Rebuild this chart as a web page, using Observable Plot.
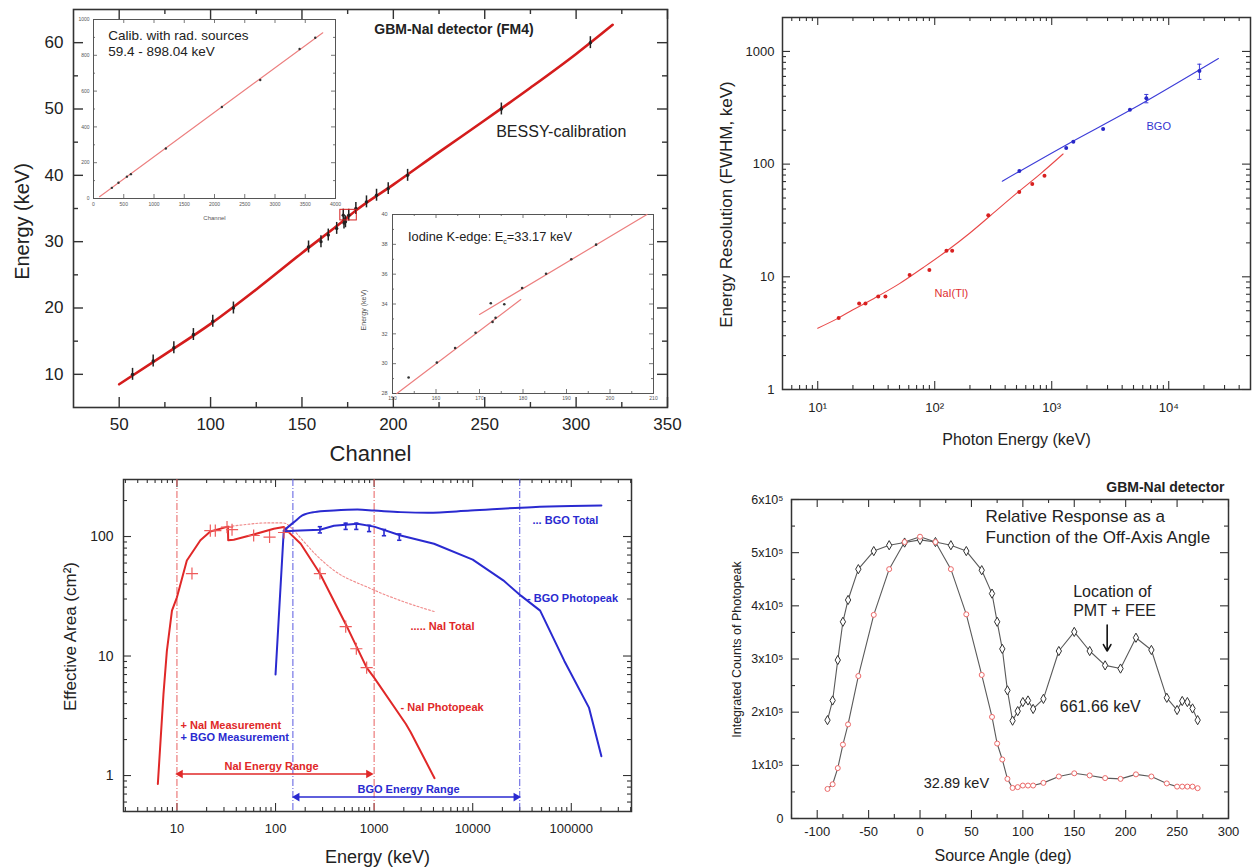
<!DOCTYPE html>
<html><head><meta charset="utf-8">
<script src="https://cdn.jsdelivr.net/npm/d3@7"></script>
<script src="https://cdn.jsdelivr.net/npm/@observablehq/plot@0.6"></script>
<style>
body{margin:0;background:#fff;}
#root{position:relative;width:1253px;height:867px;overflow:hidden;background:#fff;font-family:"Liberation Sans",Arial,Helvetica,sans-serif;}
.pane{position:absolute;}
.html-label{position:absolute;white-space:nowrap;color:#222;}
</style></head><body><div id="root"></div>
<script>
// ================= DATA =================
// --- Panel A: BESSY calibration (Energy vs Channel)
const bessyCurveCh = [50, 75, 100, 125, 150, 172, 180, 200, 225, 250, 275, 300, 320];
const bessyCurveE  = [8.5, 13, 17.6, 22.8, 28.3, 33, 34.8, 38.6, 43.5, 48.3, 53.2, 58.3, 62.7];
const bessyPtsCh = [57.3, 68.6, 79.9, 90.6, 101.2, 112.5, 153.6, 160.4, 164.4, 169, 172.6, 173, 173.8, 175.6, 179.5, 185.3, 190.8, 197.2, 207.8, 259.1, 307.8];
const bessyPtsE  = [10, 12, 14, 16, 18, 20, 29.2, 30, 31, 32, 34, 32.8, 33, 34, 35, 36, 37, 38, 40, 50, 60];
const kEdgeBoxCh = [171, 180];
const kEdgeBoxE  = [33.2, 34.8];
const chTicks = [50, 100, 150, 200, 250, 300, 350];
const chMinor = [75, 125, 175, 225, 275, 325];
const eTicks = [10, 20, 30, 40, 50, 60];
const eMinor = [15, 25, 35, 45, 55];

// --- Inset 1: calibration with radioactive sources
const calibLineCh = [100, 3790];
const calibLineE  = [10, 926];
const calibPtsCh = [304, 413, 552, 618, 1196, 2122, 2756, 3406, 3665];
const calibPtsE  = [59.4, 88, 122, 136, 279, 511, 662, 835, 898];
const calibXTicks = [0, 500, 1000, 1500, 2000, 2500, 3000, 3500, 4000];
const calibYTicks = [0, 200, 400, 600, 800, 1000];

// --- Inset 2: Iodine K-edge
const kLowCh = [151, 179.5];
const kLowE  = [28, 34.3];
const kHighCh = [170, 208.5];
const kHighE  = [33.3, 40];
const kPtsCh = [153.7, 160.2, 164.4, 169.1, 172.6, 173, 173.7, 175.7, 179.8, 185.3, 191.1, 196.8];
const kPtsE  = [29.07, 30.07, 31.05, 32.07, 34.05, 32.8, 33.07, 33.98, 35.07, 36.03, 37, 37.98];
const kXTicks = [150, 160, 170, 180, 190, 200, 210];
const kYTicks = [28, 30, 32, 34, 36, 38, 40];

// --- Panel B: energy resolution
const naiFitE = [10, 15, 20, 30, 50, 80, 130, 200, 300, 500, 800, 1250];
const naiFitR = [3.5, 4.3, 5.1, 6.4, 8.7, 12.1, 17.3, 24.5, 35, 55, 82, 123];
const naiResE = [15.1, 22.6, 25.6, 32.9, 37.9, 61, 90, 126, 141, 287, 528, 682, 867];
const naiResR = [4.3, 5.8, 5.8, 6.7, 6.7, 10.4, 11.5, 17.0, 17.0, 35.2, 56.5, 66.7, 78.7];
const bgoFitE = [378, 1330, 4660, 26600];
const bgoFitR = [70.5, 148, 300, 866];
const bgoResE = [529, 1330, 1530, 2750, 4660, 6440, 18300];
const bgoResR = [87, 139, 158, 205, 303, 385, 671];
const bgoErrE  = [6440, 18300];
const bgoErrLo = [350, 565];
const bgoErrHi = [415, 770];
const resXTicks = [10, 100, 1000, 10000];
const resXLabels = ["10¹", "10²", "10³", "10⁴"];
const resYTicks = [1, 10, 100, 1000];
const resYLabels = ["1", "10", "100", "1000"];

// --- Panel C: effective area
const naiPeakE = [6.4, 7.3, 7.9, 8.9, 10, 12.6, 17.3, 21.8, 32.9, 33.1, 37.7, 60, 96, 121, 131, 180, 282, 536, 840, 1000, 2100, 2350, 4100];
const naiPeakA = [0.85, 4.8, 11, 24, 31, 63, 93, 110, 121, 93, 94, 104, 116, 120, 112, 87, 49, 17.3, 8, 6.6, 2.7, 2.3, 0.95];
const naiTotE = [33, 50, 80, 120, 150, 180, 250, 392, 860, 1870, 4100];
const naiTotA = [121, 126, 130, 130, 115, 97, 72, 52, 37.6, 29, 23.5];
const bgoPeakE = [100, 121, 154, 282, 391, 677, 1000, 1860, 4050, 10000, 20400, 30800, 48300, 85000, 151000, 202000];
const bgoPeakA = [7, 110, 112, 114, 123, 128, 121, 102, 87, 64, 43, 32, 24, 9.1, 3.7, 1.45];
const bgoTotE = [121, 154, 187, 246, 391, 677, 1000, 1860, 3500, 9500, 39800, 100000, 202000];
const bgoTotA = [112, 132, 150, 160, 165, 168, 165, 160, 158, 165, 176, 180, 182];
const naiMeasE = [14.2, 21.8, 24.5, 32.2, 36.2, 60, 87, 122, 282, 515, 660, 840];
const naiMeasA = [49, 112, 112, 120, 114, 102, 99, 108, 49, 17.6, 11.5, 8.0];
const bgoMeasE = [282, 515, 660, 890, 1260, 1800];
const bgoMeasA = [114, 122, 122, 117, 108, 99];
const naiLimits = [10, 1000];
const bgoLimits = [150, 30000];
const rangeFrom  = [10.8, 165];
const rangeTo    = [880, 27500];
const rangeLevel = [1.03, 0.66];
const effXTicks = [10, 100, 1000, 10000, 100000];
const effXLabels = ["10", "100", "1000", "10000", "100000"];
const effYTicks = [1, 10, 100];
const effYLabels = ["1", "10", "100"];

// --- Panel D: off-axis response
const angles = [-90, -85, -80, -75, -70, -60, -45, -30, -15, 0, 15, 30, 45, 60, 70, 75, 80, 85, 90, 95, 100, 105, 110, 120, 135, 150, 165, 180, 195, 210, 225, 240, 250, 255, 260, 265, 270];
const counts662 = [1.85, 2.22, 2.98, 3.70, 4.11, 4.69, 5.03, 5.14, 5.19, 5.24, 5.2, 5.14, 5.03, 4.67, 4.23, 3.70, 3.19, 2.41, 1.84, 2.02, 2.19, 2.22, 2.06, 2.25, 3.15, 3.51, 3.15, 2.88, 2.82, 3.40, 3.17, 2.27, 2.04, 2.21, 2.19, 2.07, 1.85].map(v => v * 1e5);
const counts33 = [0.556, 0.644, 0.948, 1.39, 1.77, 2.68, 3.83, 4.69, 5.2, 5.3, 5.2, 4.69, 3.84, 2.70, 1.91, 1.41, 1.11, 0.745, 0.575, 0.59, 0.62, 0.62, 0.62, 0.67, 0.79, 0.85, 0.81, 0.76, 0.745, 0.83, 0.79, 0.66, 0.6, 0.6, 0.6, 0.6, 0.57].map(v => v * 1e5);
const pmtArrowAngle = 182;
const pmtArrowFrom = 3.64e5;
const pmtArrowTo = 3.15e5;
const angXTicks = [-100, -50, 0, 50, 100, 150, 200, 250, 300];
const angXMinor = [-125, -75, -25, 25, 75, 125, 175, 225, 275];
const angYTicks = [0, 1e5, 2e5, 3e5, 4e5, 5e5, 6e5];
const angYLabels = ["0", "1x10⁵", "2x10⁵", "3x10⁵", "4x10⁵", "5x10⁵", "6x10⁵"];
const angYMinor = [0.5e5, 1.5e5, 2.5e5, 3.5e5, 4.5e5, 5.5e5];

// ================= HELPERS =================
const FONT = '"Liberation Sans", Arial, Helvetica, sans-serif';
const root = document.getElementById("root");
const zip = (xs, ys, kx = "x", ky = "y") => xs.map((v, i) => ({[kx]: v, [ky]: ys[i]}));
const lookup = (ticks, labels) => d => labels[ticks.indexOf(d)] ?? "";
const plain = d => String(d);
function logMinor(lo, hi) {
  const out = [];
  for (let k = Math.floor(Math.log10(lo)) - 1; k <= Math.ceil(Math.log10(hi)); k++)
    for (let m = 2; m <= 9; m++) { const v = m * Math.pow(10, k); if (v > lo * 1.001 && v < hi * 0.999) out.push(v); }
  return out;
}
function place(svg, left, top) {
  const d = document.createElement("div");
  d.className = "pane";
  d.style.left = left + "px"; d.style.top = top + "px";
  d.appendChild(svg); root.appendChild(d);
}
function htmlLabel(html, left, top, css) {
  const d = document.createElement("div");
  d.className = "html-label";
  d.style.left = left + "px"; d.style.top = top + "px";
  d.style.cssText += css;
  d.innerHTML = html; root.appendChild(d);
}
// inward ticks on all four sides
function boxTicks(xMaj, xMin, yMaj, yMin, fw, fh, big, small, stroke, sw = 1.2) {
  const tx = (v, len) => [Plot.ruleX(v, {insetTop: fh - len, stroke, strokeWidth: sw}), Plot.ruleX(v, {insetBottom: fh - len, stroke, strokeWidth: sw})];
  const ty = (v, len) => [Plot.ruleY(v, {insetRight: fw - len, stroke, strokeWidth: sw}), Plot.ruleY(v, {insetLeft: fw - len, stroke, strokeWidth: sw})];
  return [...tx(xMaj, big), ...tx(xMin, small), ...ty(yMaj, big), ...ty(yMin, small)];
}
function makePlot(o) {
  return Plot.plot({
    width: o.w, height: o.h,
    marginLeft: o.ml, marginTop: o.mt, marginRight: o.mr, marginBottom: o.mb,
    x: o.x, y: o.y,
    style: {background: "transparent", overflow: "visible", fontFamily: FONT, color: "#222", maxWidth: "none"},
    marks: o.marks
  });
}
// text placed at pixel offset from the frame's top-left corner, centred on (dx, dy)
const TL = (dx, dy, extra = {}) => ({frameAnchor: "top-left", dx, dy, textAnchor: "middle", lineAnchor: "middle", ...extra});
// rotated y-axis title
const YT = (dx, dy, fontSize, extra = {}) => ({frameAnchor: "left", dx, dy, rotate: -90, textAnchor: "middle", lineAnchor: "middle", fontSize, ...extra});
// x-axis title
const XT = (dx, dy, fontSize, extra = {}) => ({frameAnchor: "bottom", dx, dy, textAnchor: "middle", lineAnchor: "middle", fontSize, ...extra});

// ================= PANEL A =================
{
  const fw = 594, fh = 398;
  const curve = zip(bessyCurveCh, bessyCurveE);
  const pts = zip(bessyPtsCh, bessyPtsE);
  const svg = makePlot({
    w: 680, h: 470, ml: 73, mt: 9, mr: 13, mb: 63,
    x: {domain: [25, 350]}, y: {domain: [5, 65]},
    marks: [
      Plot.frame({stroke: "#333", strokeWidth: 1.6}),
      ...boxTicks(chTicks, chMinor, eTicks, eMinor, fw, fh, 10, 5, "#333", 1.4),
      Plot.axisX(chTicks, {anchor: "bottom", tickSize: 0, tickPadding: 10, fontSize: 17, label: null}),
      Plot.axisY(eTicks, {anchor: "left", tickSize: 0, tickPadding: 10, fontSize: 17, label: null}),
      Plot.line(curve, {x: "x", y: "y", stroke: "#d41c1c", strokeWidth: 2.6, curve: "monotone-x"}),
      Plot.ruleX(pts, {x: "x", y1: d => d.y - 0.9, y2: d => d.y + 0.9, stroke: "#222", strokeWidth: 1.5}),
      Plot.dot(pts, {x: "x", y: "y", r: 1.7, fill: "#222"}),
      Plot.rect([{x1: kEdgeBoxCh[0], x2: kEdgeBoxCh[1], y1: kEdgeBoxE[0], y2: kEdgeBoxE[1]}], {x1: "x1", x2: "x2", y1: "y1", y2: "y2", fill: "none", stroke: "#d41c1c", strokeWidth: 1}),
      Plot.text(["Energy (keV)"], YT(-51, 13, 20)),
      Plot.text(["Channel"], XT(0, 46, 22)),
      Plot.text(["GBM-NaI detector (FM4)"], TL(380.5, 20, {fontSize: 14, fontWeight: "bold"})),
      Plot.text(["BESSY-calibration"], TL(422.7, 122.7, {fontSize: 16, textAnchor: "start"}))
    ]
  });
  place(svg, 0, 0);
}

// ================= INSET 1 =================
{
  const fw = 242, fh = 179;
  const svg = makePlot({
    w: 268, h: 217, ml: 20, mt: 10, mr: 6, mb: 28,
    x: {domain: [0, 4000]}, y: {domain: [0, 1000]},
    marks: [
      Plot.frame({stroke: "#555", strokeWidth: 1, fill: "white"}),
      ...boxTicks(calibXTicks, [], calibYTicks, [100, 300, 500, 700, 900], fw, fh, 4, 2, "#555", 0.8),
      Plot.axisX(calibXTicks, {anchor: "bottom", tickSize: 0, tickPadding: 4, fontSize: 5, label: null, fill: "#555", tickFormat: plain}),
      Plot.axisY(calibYTicks, {anchor: "left", tickSize: 0, tickPadding: 4, fontSize: 5, label: null, fill: "#555", tickFormat: plain}),
      Plot.line(zip(calibLineCh, calibLineE), {x: "x", y: "y", stroke: "#ec7f7f", strokeWidth: 1.1}),
      Plot.dot(zip(calibPtsCh, calibPtsE), {x: "x", y: "y", r: 1.2, fill: "#333"}),
      Plot.text(["Channel"], XT(0, 20, 6, {fill: "#555"})),
      Plot.text(["Calib. with rad. sources"], TL(14.7, 16, {fontSize: 13.5, textAnchor: "start"})),
      Plot.text(["59.4 - 898.04 keV"], TL(14.7, 31.7, {fontSize: 13.5, textAnchor: "start"}))
    ]
  });
  place(svg, 73, 9);
}

// ================= INSET 2 =================
{
  const fw = 261, fh = 179;
  const svg = makePlot({
    w: 307, h: 203, ml: 40, mt: 10, mr: 6, mb: 14,
    x: {domain: [150, 210]}, y: {domain: [28, 40]},
    marks: [
      Plot.frame({stroke: "#555", strokeWidth: 1, fill: "white"}),
      ...boxTicks(kXTicks, [155, 165, 175, 185, 195, 205], kYTicks, [29, 31, 33, 35, 37, 39], fw, fh, 4, 2, "#555", 0.8),
      Plot.axisX(kXTicks, {anchor: "bottom", tickSize: 0, tickPadding: 3, fontSize: 5, label: null, fill: "#555", tickFormat: plain}),
      Plot.axisY(kYTicks, {anchor: "left", tickSize: 0, tickPadding: 5, fontSize: 5.5, label: null, fill: "#555", tickFormat: plain}),
      Plot.line(zip(kLowCh, kLowE), {x: "x", y: "y", stroke: "#ec7f7f", strokeWidth: 1.2}),
      Plot.line(zip(kHighCh, kHighE), {x: "x", y: "y", stroke: "#ec7f7f", strokeWidth: 1.2}),
      Plot.dot(zip(kPtsCh, kPtsE), {x: "x", y: "y", r: 1.3, fill: "#333"}),
      Plot.text(["Energy (keV)"], YT(-29, 6, 7, {fill: "#555"}))
    ]
  });
  place(svg, 352, 204);
  htmlLabel('Iodine K-edge: E<sub style="font-size:7px;vertical-align:-3px">c</sub>=33.17 keV', 408, 229, "font-size:12.8px;");
}

// ================= PANEL B =================
{
  const fw = 468, fh = 372;
  const xd = [5, 50000], yd = [1, 2000];
  const svg = makePlot({
    w: 553, h: 460, ml: 82, mt: 17, mr: 3, mb: 71,
    x: {type: "log", domain: xd}, y: {type: "log", domain: yd},
    marks: [
      Plot.frame({stroke: "#333", strokeWidth: 1.5}),
      ...boxTicks(resXTicks, logMinor(...xd), resYTicks, logMinor(...yd), fw, fh, 8, 4, "#333", 1.1),
      Plot.axisX(resXTicks, {anchor: "bottom", tickSize: 0, tickPadding: 13, fontSize: 13, label: null, tickFormat: lookup(resXTicks, resXLabels)}),
      Plot.axisY(resYTicks, {anchor: "left", tickSize: 0, tickPadding: 8, fontSize: 13, label: null, tickFormat: lookup(resYTicks, resYLabels)}),
      Plot.line(zip(naiFitE, naiFitR), {x: "x", y: "y", stroke: "#e84848", strokeWidth: 1.1, curve: "monotone-x"}),
      Plot.dot(zip(naiResE, naiResR), {x: "x", y: "y", r: 2, fill: "#d82020"}),
      Plot.line(zip(bgoFitE, bgoFitR), {x: "x", y: "y", stroke: "#3c3cd8", strokeWidth: 1.1, curve: "monotone-x"}),
      Plot.ruleX(bgoErrE.map((e, i) => ({e, lo: bgoErrLo[i], hi: bgoErrHi[i]})), {x: "e", y1: "lo", y2: "hi", stroke: "#3c3cd8", strokeWidth: 1}),
      Plot.link(bgoErrE.map((e, i) => ({e, v: bgoErrLo[i]})).concat(bgoErrE.map((e, i) => ({e, v: bgoErrHi[i]}))), {x1: d => d.e * 0.96, x2: d => d.e * 1.04, y1: "v", y2: "v", stroke: "#3c3cd8", strokeWidth: 1}),
      Plot.dot(zip(bgoResE, bgoResR), {x: "x", y: "y", r: 2, fill: "#2828c8"}),
      Plot.text(["Energy Resolution (FWHM, keV)"], YT(-56, 1, 17)),
      Plot.text(["Photon Energy (keV)"], XT(0, 50, 16)),
      Plot.text(["NaI(Tl)"], TL(152, 276, {fontSize: 11, fill: "#e03030", textAnchor: "start"})),
      Plot.text(["BGO"], TL(364, 109, {fontSize: 11, fill: "#3434d0", textAnchor: "start"}))
    ]
  });
  place(svg, 700, 0);
}

// ================= PANEL C =================
{
  const fw = 508, fh = 332;
  const xd = [2.87, 4.08e5], yd = [0.5, 300];
  const red = "#e02828", blue = "#2a2ad0";
  const arrows = rangeFrom.map((f, i) => ({f, t: rangeTo[i], y: rangeLevel[i], c: i === 0 ? red : blue}));
  const svg = makePlot({
    w: 645, h: 407, ml: 123, mt: 19, mr: 14, mb: 56,
    x: {type: "log", domain: xd}, y: {type: "log", domain: yd},
    marks: [
      Plot.frame({stroke: "#333", strokeWidth: 1.5}),
      ...boxTicks(effXTicks, logMinor(...xd), effYTicks, logMinor(...yd), fw, fh, 8, 4, "#333", 1.1),
      Plot.axisX(effXTicks, {anchor: "bottom", tickSize: 0, tickPadding: 12, fontSize: 13, label: null, tickFormat: lookup(effXTicks, effXLabels)}),
      Plot.axisY(effYTicks, {anchor: "left", tickSize: 0, tickPadding: 10, fontSize: 14, label: null, tickFormat: lookup(effYTicks, effYLabels)}),
      Plot.ruleX(naiLimits, {stroke: "#e86060", strokeWidth: 1, strokeDasharray: "7,2,1,2"}),
      Plot.ruleX(bgoLimits, {stroke: "#5a5ae0", strokeWidth: 1, strokeDasharray: "7,2,1,2"}),
      Plot.line(zip(naiTotE, naiTotA), {x: "x", y: "y", stroke: "#f08a8a", strokeWidth: 1.1, strokeDasharray: "2,2", curve: "monotone-x"}),
      Plot.line(zip(naiPeakE, naiPeakA), {x: "x", y: "y", stroke: red, strokeWidth: 2}),
      Plot.line(zip(bgoTotE, bgoTotA), {x: "x", y: "y", stroke: blue, strokeWidth: 2, curve: "monotone-x"}),
      Plot.line(zip(bgoPeakE, bgoPeakA), {x: "x", y: "y", stroke: blue, strokeWidth: 2}),
      Plot.dot(zip(naiMeasE, naiMeasA), {x: "x", y: "y", symbol: "plus", r: 4, stroke: "#ee5a5a", strokeWidth: 1.2}),
      Plot.ruleX(zip(bgoMeasE, bgoMeasA), {x: "x", y1: d => d.y * 0.94, y2: d => d.y * 1.06, stroke: blue, strokeWidth: 1.6}),
      Plot.link(zip(bgoMeasE, bgoMeasA).flatMap(d => [{x: d.x, y: d.y * 0.94}, {x: d.x, y: d.y * 1.06}]), {x1: d => d.x * 0.95, x2: d => d.x * 1.05, y1: "y", y2: "y", stroke: blue, strokeWidth: 1.6}),
      Plot.link(arrows, {x1: "f", x2: "t", y1: "y", y2: "y", stroke: "c", strokeWidth: 1.5}),
      Plot.dot(arrows, {x: "f", y: "y", symbol: "triangle", r: 3.2, rotate: -90, fill: "c", stroke: "none"}),
      Plot.dot(arrows, {x: "t", y: "y", symbol: "triangle", r: 3.2, rotate: 90, fill: "c", stroke: "none"}),
      Plot.text(["Effective Area (cm²)"], YT(-53, -9, 17)),
      Plot.text(["Energy (keV)"], XT(0, 46, 18)),
      Plot.text(["... BGO Total"], TL(409, 41, {fontSize: 11, fontWeight: "bold", fill: blue, textAnchor: "start"})),
      Plot.text(["- BGO Photopeak"], TL(403.5, 119, {fontSize: 11, fontWeight: "bold", fill: blue, textAnchor: "start"})),
      Plot.text(["..... NaI Total"], TL(287, 146.7, {fontSize: 11, fontWeight: "bold", fill: red, textAnchor: "start"})),
      Plot.text(["- NaI Photopeak"], TL(277, 227.7, {fontSize: 11, fontWeight: "bold", fill: red, textAnchor: "start"})),
      Plot.text(["+ NaI Measurement"], TL(57, 246, {fontSize: 11, fontWeight: "bold", fill: red, textAnchor: "start"})),
      Plot.text(["+ BGO Measurement"], TL(57, 258.3, {fontSize: 11, fontWeight: "bold", fill: blue, textAnchor: "start"})),
      Plot.text(["NaI Energy Range"], TL(148, 287, {fontSize: 11, fontWeight: "bold", fill: red})),
      Plot.text(["BGO Energy Range"], TL(285, 310, {fontSize: 11, fontWeight: "bold", fill: blue}))
    ]
  });
  place(svg, 0, 460);
}

// ================= PANEL D =================
{
  const fw = 437, fh = 319;
  const d662 = zip(angles, counts662);
  const d33 = zip(angles, counts33);
  const svg = makePlot({
    w: 553, h: 407, ml: 91, mt: 39, mr: 25, mb: 49,
    x: {domain: [-125, 300]}, y: {domain: [0, 6e5]},
    marks: [
      Plot.frame({stroke: "#333", strokeWidth: 1.5}),
      ...boxTicks(angXTicks, angXMinor, angYTicks, angYMinor, fw, fh, 8, 4, "#333", 1.1),
      Plot.axisX(angXTicks, {anchor: "bottom", tickSize: 0, tickPadding: 8, fontSize: 13, label: null, tickFormat: plain}),
      Plot.axisY(angYTicks, {anchor: "left", tickSize: 0, tickPadding: 8, fontSize: 12.5, label: null, tickFormat: lookup(angYTicks, angYLabels)}),
      Plot.line(d662, {x: "x", y: "y", stroke: "#5a5a5a", strokeWidth: 1.1}),
      Plot.line(d33, {x: "x", y: "y", stroke: "#5a5a5a", strokeWidth: 1.1}),
      Plot.dot(d662, {x: "x", y: "y", symbol: "diamond", r: 2.8, stroke: "#333", fill: "white", strokeWidth: 1}),
      Plot.dot(d33, {x: "x", y: "y", r: 2.5, stroke: "#ec6a6a", fill: "white", strokeWidth: 1}),
      Plot.arrow([{x: pmtArrowAngle, y1: pmtArrowFrom, y2: pmtArrowTo}], {x1: "x", x2: "x", y1: "y1", y2: "y2", stroke: "#111", strokeWidth: 1.6, headLength: 7}),
      Plot.text(["Integrated Counts of Photopeak"], YT(-54.3, -9.5, 12.5)),
      Plot.text(["Source Angle (deg)"], XT(-7, 37, 16)),
      Plot.text(["GBM-NaI detector"], TL(433, -12.3, {fontSize: 14, fontWeight: "bold", textAnchor: "end"})),
      Plot.text(["Relative Response as a"], TL(194, 17, {fontSize: 17, textAnchor: "start"})),
      Plot.text(["Function of the Off-Axis Angle"], TL(194, 37.7, {fontSize: 17, textAnchor: "start"})),
      Plot.text(["Location of"], TL(281.7, 92, {fontSize: 16, textAnchor: "start"})),
      Plot.text(["PMT + FEE"], TL(281.7, 111, {fontSize: 16, textAnchor: "start"})),
      Plot.text(["661.66 keV"], TL(268.3, 207, {fontSize: 16, textAnchor: "start"})),
      Plot.text(["32.89 keV"], TL(132.3, 284.3, {fontSize: 14.5, textAnchor: "start"}))
    ]
  });
  place(svg, 700, 460);
}
</script></body></html>
